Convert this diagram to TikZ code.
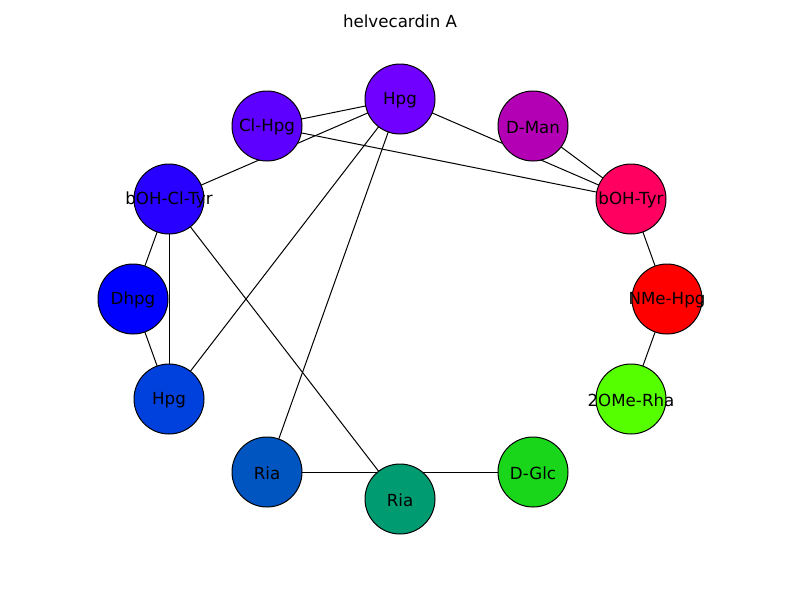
\documentclass[tikz,border=0pt]{standalone}
\usepackage{fontspec}
\setmainfont{DejaVu Sans}
\usetikzlibrary{backgrounds}
\definecolor{cHpgT}{HTML}{7000FF}
\definecolor{cClHpg}{HTML}{5E00FF}
\definecolor{cbOHCl}{HTML}{2800FF}
\definecolor{cDhpg}{HTML}{0000FF}
\definecolor{cHpgL}{HTML}{0040DD}
\definecolor{cRiaL}{HTML}{0055C0}
\definecolor{cRiaB}{HTML}{009B70}
\definecolor{cDGlc}{HTML}{1AD61A}
\definecolor{cRha}{HTML}{55FF00}
\definecolor{cNMe}{HTML}{FF0000}
\definecolor{cbOHTyr}{HTML}{FF0060}
\definecolor{cDMan}{HTML}{B400B4}
\tikzset{
  vtx/.style={circle, draw=black, line width=0.72pt, minimum size=50.4pt, inner sep=0pt},
  lbl/.style={font=\fontsize{12pt}{14pt}\selectfont, text=black, inner sep=0pt, yshift=-1pt},
  edge/.style={draw=black, line width=0.72pt}
}
\begin{document}
\begin{tikzpicture}[x=0.72pt, y=-0.72pt]
\useasboundingbox (0,0) rectangle (800,600);
\node[lbl] (title) at (400,20) {helvecardin A};
\node[vtx, fill=cHpgT, label={[lbl]center:Hpg}] (hpgT) at (400,99) {};
\node[vtx, fill=cClHpg, label={[lbl]center:Cl-Hpg}] (clhpg) at (267,126) {};
\node[vtx, fill=cDMan, label={[lbl]center:D-Man}] (dman) at (533,126) {};
\node[vtx, fill=cbOHCl, label={[lbl]center:bOH-Cl-Tyr}] (bohcl) at (169,199) {};
\node[vtx, fill=cbOHTyr, label={[lbl]center:bOH-Tyr}] (bohtyr) at (631,199) {};
\node[vtx, fill=cDhpg, label={[lbl]center:Dhpg}] (dhpg) at (133,299) {};
\node[vtx, fill=cNMe, label={[lbl]center:NMe-Hpg}] (nme) at (667,299) {};
\node[vtx, fill=cHpgL, label={[lbl]center:Hpg}] (hpgL) at (169,399) {};
\node[vtx, fill=cRha, label={[lbl]center:2OMe-Rha}] (rha) at (631,399) {};
\node[vtx, fill=cRiaL, label={[lbl]center:Ria}] (rial) at (267,472) {};
\node[vtx, fill=cDGlc, label={[lbl]center:D-Glc}] (dglc) at (533,472) {};
\node[vtx, fill=cRiaB, label={[lbl]center:Ria}] (riab) at (400,499) {};
\begin{pgfonlayer}{background}
\fill[white] (0,0) rectangle (800,600);
\draw[edge] (hpgT.center) -- (clhpg.center);
\draw[edge] (hpgT.center) -- (bohcl.center);
\draw[edge] (hpgT.center) -- (bohtyr.center);
\draw[edge] (hpgT.center) -- (hpgL.center);
\draw[edge] (hpgT.center) -- (rial.center);
\draw[edge] (clhpg.center) -- (bohtyr.center);
\draw[edge] (dman.center) -- (bohtyr.center);
\draw[edge] (bohtyr.center) -- (nme.center);
\draw[edge] (nme.center) -- (rha.center);
\draw[edge] (bohcl.center) -- (dhpg.center);
\draw[edge] (bohcl.center) -- (hpgL.center);
\draw[edge] (bohcl.center) -- (riab.center);
\draw[edge] (dhpg.center) -- (hpgL.center);
\draw[edge] (rial.center) -- (dglc.center);
\end{pgfonlayer}
\end{tikzpicture}
\end{document}
